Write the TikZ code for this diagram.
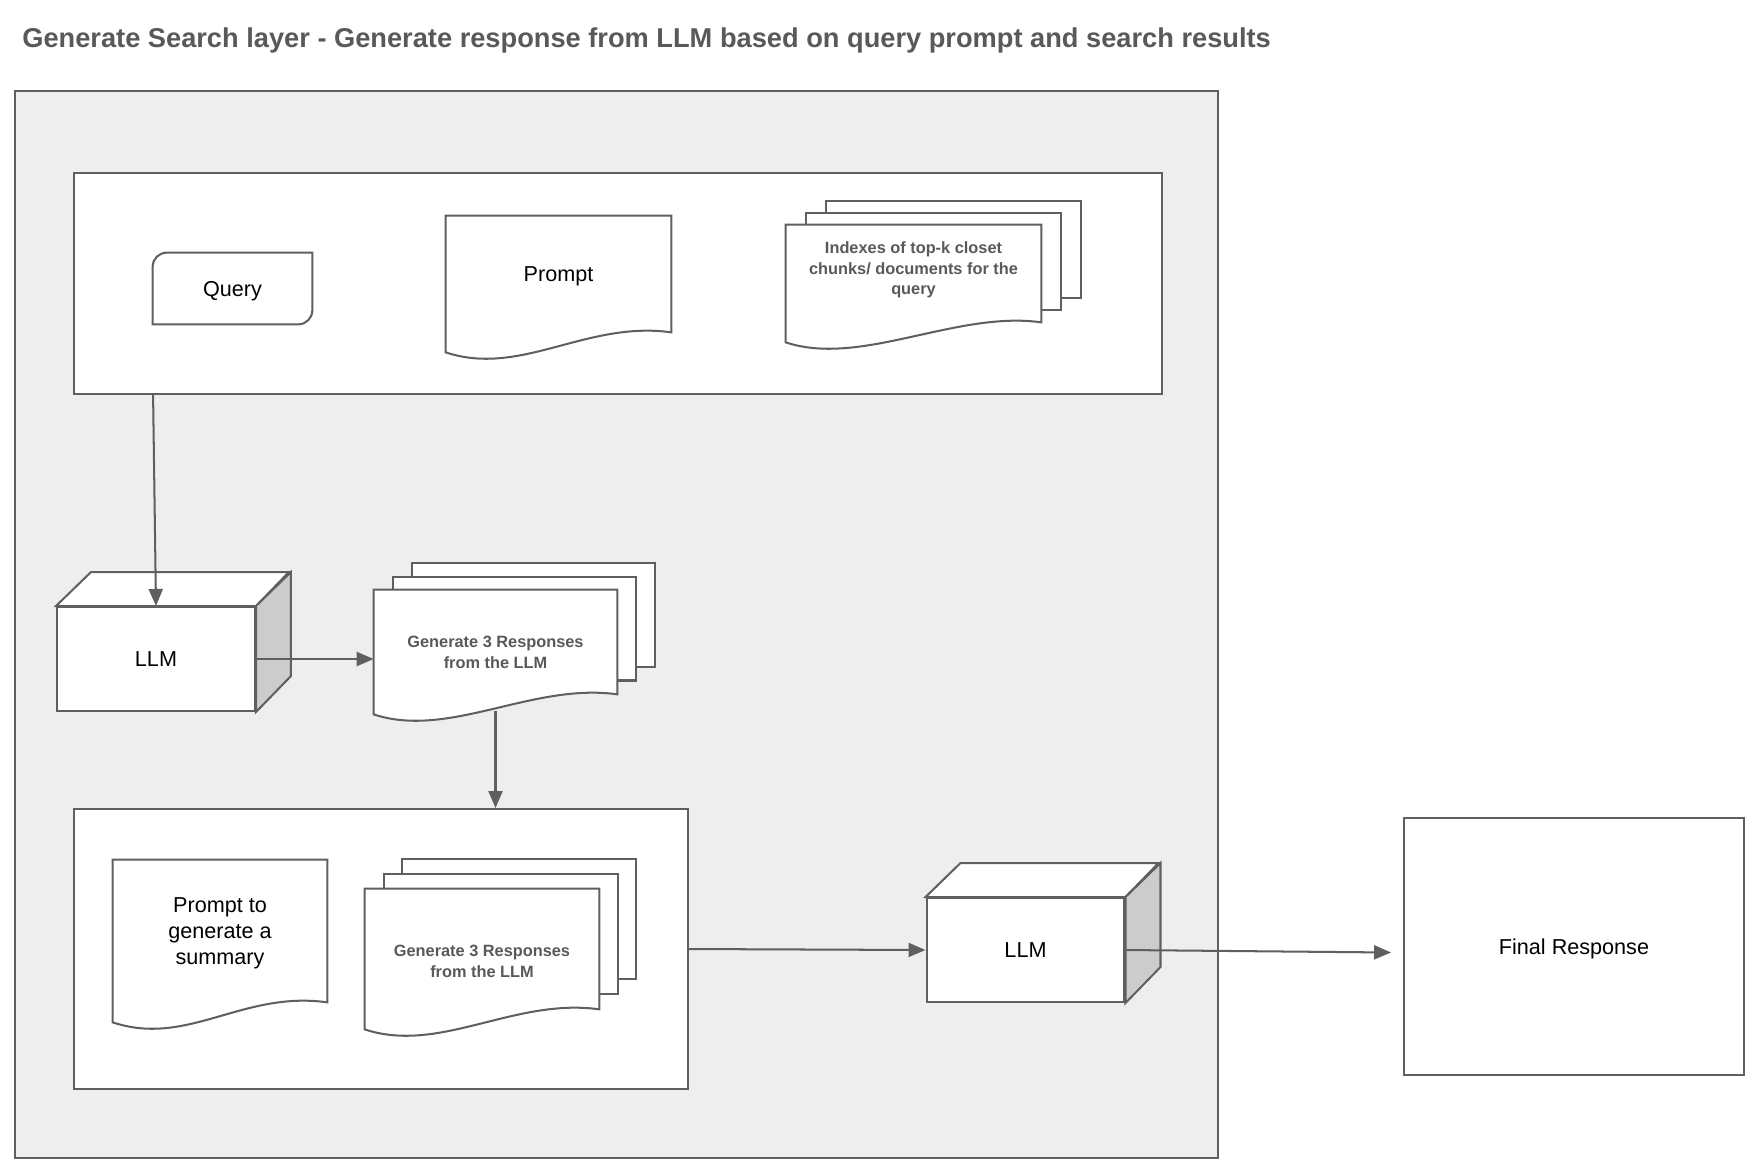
\documentclass[tikz,border=0pt]{standalone}
\usepackage{fontspec}
\setmainfont{Liberation Sans}
\usepackage{xcolor}
\usepackage{tikz}
\usetikzlibrary{arrows.meta,positioning}

\definecolor{linec}{HTML}{5F5F5F}
\definecolor{panelgray}{HTML}{EEEEEE}
\definecolor{sidegray}{HTML}{CCCCCC}
\definecolor{textgray}{HTML}{595959}

\begin{document}
\begin{tikzpicture}[x=0.02cm, y=-0.02cm,
  line/.style={draw=linec, line width=1.15pt},
  panel/.style={line, fill=panelgray, inner sep=0pt},
  main/.style={font=\fontsize{12.3}{15}\selectfont, text depth=0pt},
  box/.style={line, main, fill=white, inner sep=0pt},
  page/.style={line, fill=white, inner sep=0pt},
  query/.style={main, inner sep=0pt, minimum width=3.18cm, minimum height=1.42cm,
    append after command={\pgfextra{\draw[line, fill=white]
      ([xshift=0.28cm]\tikzlastnode.north west) -- (\tikzlastnode.north east)
      -- ([yshift=0.28cm]\tikzlastnode.south east) arc[start angle=0, end angle=-90, radius=0.28cm]
      -- (\tikzlastnode.south west) -- ([yshift=-0.28cm]\tikzlastnode.north west)
      arc[start angle=180, end angle=90, radius=0.28cm] -- cycle;}}},
  doc/.style={inner sep=0pt, align=center,
    append after command={\pgfextra{\draw[line, fill=white]
      ([yshift=#1]\tikzlastnode.north west) -- ([yshift=#1]\tikzlastnode.north east)
      -- ([yshift=#1]\tikzlastnode.south east) .. controls +(-1.7cm,0.24cm) and +(1.5cm,-0.5cm)
      .. ([yshift=#1-0.4cm]\tikzlastnode.south west) -- cycle;}}},
  doc/.default=0cm,
  llm/.style={line, main, fill=white, inner sep=0pt, minimum width=3.96cm, minimum height=2.08cm,
    append after command={\pgfextra{
      \draw[line, fill=white] (\tikzlastnode.north west) -- ++(0.7cm,0.68cm) -- ++(3.96cm,0cm)
        -- (\tikzlastnode.north east) -- cycle;
      \draw[line, fill=sidegray] (\tikzlastnode.north east) -- ++(0.7cm,0.68cm) -- ++(0cm,-2.08cm)
        -- (\tikzlastnode.south east) -- cycle;}}},
  small/.style={font=\fontsize{9.3}{11.7}\selectfont\bfseries, text=textgray},
  title/.style={font=\fontsize{15.5}{18}\selectfont\bfseries, text=textgray, anchor=west, inner sep=0pt},
  arr/.style={line, -{Triangle[length=0.34cm, width=0.28cm]}}
]
\path[use as bounding box, fill=white] (0,0) rectangle (1760,1174);
\node[title] (title) at (22,40.5) {Generate Search layer - Generate response from LLM based on query prompt and search results};
% layer and panels
\node[panel, minimum width=24.07cm, minimum height=21.34cm] (layer) at (616.3,624.5) {};
\node[box, minimum width=21.76cm, minimum height=4.42cm] (inputs) at (618,283.5) {};
\node[box, minimum width=12.28cm, minimum height=5.6cm] (summ) at (381,949) {};
\node[box, minimum width=6.8cm, minimum height=5.14cm] (final) at (1574,946.5) {Final Response};
% inputs panel, left to right
\node[query] (query) at (232.5,288.5) {Query};
\node[doc, main, minimum width=4.5cm, minimum height=2.32cm] (prompt) at (558.5,274) {Prompt};
\node[page, minimum width=5.1cm, minimum height=1.94cm] (idx3) at (953.5,249.5) {};
\node[page, minimum width=5.1cm, minimum height=1.94cm] (idx2) at (933.5,261.5) {};
\node[doc=-0.07cm, small, minimum width=5.1cm, minimum height=1.94cm] (idx) at (913.5,270)
  {Indexes of top-k closet\\chunks/ documents for the\\query};
% first LLM call
\node[llm] (llm1) at (156,659) {LLM};
\node[page, minimum width=4.86cm, minimum height=2.08cm] (gen13) at (533.5,615) {};
\node[page, minimum width=4.86cm, minimum height=2.08cm] (gen12) at (514.5,628.5) {};
\node[doc=0.21cm, small, minimum width=4.86cm, minimum height=2.08cm] (gen1) at (495.5,652.5)
  {Generate 3 Responses\\from the LLM};
% summary panel
\node[doc, main, minimum width=4.28cm, minimum height=2.84cm] (sprompt) at (220,931)
  {Prompt to\\generate a\\summary};
\node[page, minimum width=4.68cm, minimum height=2.4cm] (gen23) at (519,919) {};
\node[page, minimum width=4.68cm, minimum height=2.4cm] (gen22) at (501,934) {};
\node[doc=0.25cm, small, minimum width=4.68cm, minimum height=2.4cm] (gen2) at (482,961.5)
  {Generate 3 Responses\\from the LLM};
% second LLM call
\node[llm] (llm2) at (1025.5,950) {LLM};
\draw[arr] ([xshift=1.6cm]inputs.south west) -- (llm1.north);
\draw[arr] (llm1.east) -- (llm1.east -| gen1.west);
\draw[arr] ([yshift=-0.13cm]gen1.south) -- (gen1.south |- summ.north);
\draw[arr] (summ.east) -- (llm2.west);
\draw[arr] (llm2.east) -- ([xshift=-0.24cm, yshift=-0.12cm]final.west);
\end{tikzpicture}
\end{document}
